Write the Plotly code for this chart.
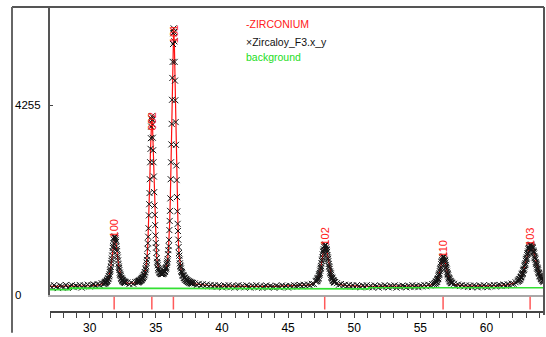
import numpy as np
import plotly.graph_objects as go

# ---------------- data (2-theta in degrees, intensity in counts) ----------------
STEP_BG = 0.15      # observed step between the peaks
STEP_OBS_PK = 0.025  # observed step across the peaks
STEP_CALC_PK = 0.05  # calculated-profile step across the peaks

# observed, background 27.00 - 31.05
obs_bg1 = [215, 170, 225, 185, 160, 220, 195, 175, 230, 165, 205, 225, 180, 210,
           190, 230, 170, 215, 200, 235, 195, 225, 240, 215, 250, 230, 270, 250]
# peak (100) 31.100 - 32.700
obs_pk100 = [255, 280, 265, 290, 275, 300, 305, 295, 320, 335, 330, 360, 375, 380,
             420, 430, 465, 520, 555, 585, 635, 715, 770, 820, 890, 985, 1060, 1100,
             1170, 1245, 1295, 1290, 1315, 1310, 1275, 1240, 1195, 1100, 1035, 990,
             895, 845, 780, 700, 640, 610, 565, 505, 470, 455, 430, 390, 370, 370,
             345, 325, 335, 305, 320, 295, 305, 285, 300, 275, 290]
calc_pk100 = [264, 273, 282, 295, 313, 336, 367, 411, 470, 547, 644, 763, 900, 1045,
              1180, 1282, 1321, 1283, 1183, 1048, 905, 769, 650, 555, 479, 421, 379,
              349, 327, 311, 299, 291, 283]
# background 32.85 - 33.45
obs_bg2 = [285, 250, 280, 255, 295]
# peaks (002)+(101) 33.600 - 37.800
obs_pk002_101 = [300, 290, 285, 310, 300, 320, 305, 325, 330, 320, 345, 335, 355, 350,
                 370, 380, 390, 385, 415, 410, 445, 450, 470, 510, 520, 575, 600, 650,
                 730, 790, 880, 1040, 1165, 1310, 1500, 1790, 2040, 2290, 2600, 2980,
                 3280, 3520, 3780, 3960, 4010, 3930, 3830, 3530, 3250, 2980, 2660, 2310,
                 2010, 1800, 1570, 1340, 1170, 1070, 950, 830, 750, 720, 670, 610,
                 580, 575, 555, 520, 505, 515, 505, 480, 475, 495, 490, 470, 475, 495,
                 500, 485, 495, 525, 535, 525, 540, 575, 600, 605, 630, 685, 725, 760,
                 810, 920, 1010, 1100, 1240, 1460, 1665, 1890, 2170, 2600, 2980, 3380,
                 3840, 4380, 4870, 5230, 5630, 5870, 5980, 5900, 5690, 5230, 4810, 4370,
                 3880, 3370, 2910, 2580, 2200, 1880, 1600, 1440, 1245, 1080, 945, 885,
                 800, 715, 660, 640, 600, 545, 520, 520, 495, 455, 440, 445, 430, 395,
                 385, 395, 380, 355, 350, 360, 350, 325, 320, 335, 325, 300, 300, 315,
                 305, 285, 285, 300, 290, 270, 270, 285, 280, 260, 260, 275, 270]
calc_pk002_101 = [292, 298, 305, 312, 323, 334, 348, 364, 384, 406,
                  437, 475, 529, 605, 719, 895, 1153, 1520, 2017, 2620,
                  3265, 3804, 4026, 3809, 3275, 2635, 2037, 1547, 1185, 934,
                  765, 658, 590, 545, 516, 496, 487, 483, 483, 490,
                  504, 523, 548, 587, 639, 713, 825, 993, 1255, 1643,
                  2199, 2951, 3866, 4844, 5660, 5993, 5657, 4835, 3854, 2936,
                  2179, 1619, 1226, 960, 786, 670, 589, 530, 484, 450,
                  420, 395, 374, 357, 342, 329, 318, 308, 300, 292,
                  285, 280, 273, 269, 264]
# background 37.95 - 47.10
obs_bg3 = [265, 230, 255, 220, 245, 205, 240, 200, 230, 195, 225, 185, 220, 200,
           175, 215, 190, 225, 180, 210, 170, 205, 225, 180, 210, 175, 220, 195,
           170, 210, 185, 225, 175, 205, 165, 195, 220, 180, 205, 185, 170, 215,
           195, 175, 220, 185, 205, 170, 210, 190, 225, 200, 215, 230, 200, 235,
           210, 240, 220, 255, 250, 305]
# peak (102) 47.150 - 48.550
obs_pk102 = [320, 315, 325, 350, 375, 375, 390, 430, 460, 470, 500, 550, 590, 615,
             650, 715, 770, 800, 845, 915, 970, 995, 1030, 1085, 1115, 1110, 1120,
             1135, 1120, 1070, 1030, 1010, 970, 900, 845, 815, 765, 700, 650, 630,
             590, 535, 500, 485, 455, 415, 390, 390, 370, 340, 325, 330, 320, 295,
             285, 295, 290]
calc_pk102 = [311, 333, 362, 400, 448, 508, 579, 663, 757, 857, 957, 1044, 1106, 1128,
              1106, 1044, 957, 857, 757, 663, 579, 508, 448, 400, 362, 333, 311, 293, 280]
# background 48.70 - 56.05
obs_bg4 = [270, 235, 250, 215, 235, 200, 230, 195, 220, 185, 225, 200, 175, 215,
           190, 225, 180, 210, 175, 220, 195, 170, 210, 185, 225, 195, 175, 210,
           185, 220, 170, 205, 185, 215, 195, 175, 210, 185, 225, 190, 210, 180,
           215, 195, 230, 200, 235, 215, 250, 245]
# peak (110) 56.100 - 57.400
obs_pk110 = [270, 265, 270, 295, 305, 300, 310, 340, 360, 365, 380, 420, 450, 465,
             490, 540, 580, 605, 635, 695, 740, 760, 790, 830, 860, 855, 860, 870,
             855, 815, 790, 770, 735, 680, 635, 610, 575, 525, 490, 470, 445, 405,
             380, 375, 355, 325, 310, 315, 300, 280, 270, 280, 270]
calc_pk110 = [264, 278, 295, 319, 349, 389, 439, 499, 569, 646, 726, 798, 849, 868,
              849, 798, 726, 646, 569, 499, 439, 389, 349, 319, 295, 278, 264]
# background 57.55 - 62.35
obs_bg5 = [255, 220, 240, 205, 225, 195, 220, 185, 215, 180, 220, 200, 175, 215,
           190, 225, 195, 180, 220, 200, 230, 195, 220, 230, 205, 240, 215, 245,
           225, 260, 255, 290, 300]
# peak (103) 62.400 - 64.350
obs_pk103 = [325, 320, 330, 350, 360, 355, 365, 395, 410, 405, 425, 460, 480, 480,
             500, 545, 565, 570, 595, 645, 675, 685, 715, 770, 805, 815, 845, 900,
             935, 945, 980, 1030, 1055, 1055, 1080, 1115, 1125, 1115, 1120, 1135,
             1125, 1095, 1080, 1075, 1055, 1005, 980, 965, 935, 880, 845, 830, 800,
             745, 715, 700, 670, 625, 600, 590, 560, 520, 500, 495, 475, 440, 425,
             425, 405, 380, 370, 370, 355, 335, 330, 335, 320, 305, 305]
calc_pk103 = [317, 333, 351, 374, 400, 431, 467, 508, 554, 606, 663, 724, 790, 857,
              924, 989, 1044, 1089, 1118, 1128, 1118, 1089, 1044, 989, 924, 857, 790,
              724, 663, 606, 554, 508, 467, 431, 400, 374, 351, 333, 317, 304]

# calculated profile between the peaks (knots)
calc_bg_x = [27.0, 28.0, 29.0, 30.0, 30.6, 30.9, 31.05,
             32.85, 33.0, 33.15, 33.3, 33.45,
             37.95, 38.25, 38.55, 39.0, 39.6, 40.5, 42.0, 44.0, 45.0, 45.6, 46.2,
             46.5, 46.8, 46.95, 47.1,
             48.7, 49.0, 49.45, 49.9, 50.5, 51.5, 53.0, 54.5, 55.0, 55.45, 55.75,
             55.9, 56.05,
             57.55, 57.85, 58.15, 58.6, 59.5, 60.5, 61.0, 61.6, 61.9, 62.2, 62.35]
calc_bg_y = [198, 200, 204, 212, 228, 245, 258,
             272, 267, 266, 270, 278,
             253, 239, 229, 218, 209, 203, 199, 199, 204, 208, 217,
             226, 244, 261, 293,
             255, 231, 217, 209, 205, 201, 199, 201, 205, 212, 225,
             236, 252,
             242, 224, 213, 206, 204, 211, 217, 233, 247, 275, 304]

# refined background
bg_x = [27.0, 28.5, 28.5, 42.2, 42.2, 51.1, 51.1, 64.35]
bg_y = [125, 125, 158, 158, 142, 142, 168, 168]

# reflections
hkl_pos = [31.85, 34.70, 36.33, 47.77, 56.72, 63.30]
hkl_labels = ["100", "002", "101", "102", "110", "103"]

x_range = [27.0, 64.35]
y_range = [0, 6460]
y_tick_vals = [0, 4255]
x_tick_label_step = 5

# ---------------- assemble ----------------
obs_segments = [(27.00, STEP_BG, obs_bg1), (31.10, STEP_OBS_PK, obs_pk100),
                (32.85, STEP_BG, obs_bg2), (33.60, STEP_OBS_PK, obs_pk002_101),
                (37.95, STEP_BG, obs_bg3), (47.15, STEP_OBS_PK, obs_pk102),
                (48.70, STEP_BG, obs_bg4), (56.10, STEP_OBS_PK, obs_pk110),
                (57.55, STEP_BG, obs_bg5), (62.40, STEP_OBS_PK, obs_pk103)]
calc_segments = [(31.10, STEP_CALC_PK, calc_pk100), (33.60, STEP_CALC_PK, calc_pk002_101),
                 (47.15, STEP_CALC_PK, calc_pk102), (56.10, STEP_CALC_PK, calc_pk110),
                 (62.40, STEP_CALC_PK, calc_pk103)]

obs_x, obs_y = [], []
for start, step, vals in obs_segments:
    obs_x += list(np.round(start + step * np.arange(len(vals)), 4))
    obs_y += list(vals)

cx, cy = list(calc_bg_x), list(calc_bg_y)
for start, step, vals in calc_segments:
    cx += list(np.round(start + step * np.arange(len(vals)), 4))
    cy += list(vals)
order = np.argsort(cx, kind="stable")
calc_x = np.array(cx)[order]
calc_y = np.array(cy)[order]

fig = go.Figure()
fig.add_trace(go.Scatter(x=calc_x, y=calc_y, mode="lines",
                         line=dict(color="#ff1010", width=1.2),
                         xaxis="x", yaxis="y", showlegend=False, hoverinfo="skip"))
fig.add_trace(go.Scatter(x=obs_x, y=obs_y, mode="markers",
                         marker=dict(symbol="x-thin", size=6,
                                     line=dict(width=1, color="#141414")),
                         xaxis="x", yaxis="y", showlegend=False, hoverinfo="skip"))
fig.add_trace(go.Scatter(x=bg_x, y=bg_y, mode="lines",
                         line=dict(color="#33e033", width=1.6),
                         xaxis="x", yaxis="y", showlegend=False, hoverinfo="skip"))
fig.add_trace(go.Scatter(x=hkl_pos, y=[0.5] * len(hkl_pos), mode="markers",
                         marker=dict(symbol="line-ns", size=9,
                                     line=dict(width=1.5, color="#ff5a5a")),
                         xaxis="x2", yaxis="y2", showlegend=False, hoverinfo="skip"))

strip = 16 / 308.0
tick_vals = list(range(27, 65))
tick_text = [str(v) if v % x_tick_label_step == 0 else "" for v in tick_vals]

fig.update_layout(
    width=546, height=337,
    margin=dict(l=50, r=2, t=7, b=22),
    paper_bgcolor="white", plot_bgcolor="white",
    font=dict(family="Arial, Liberation Sans", color="black"),
    xaxis=dict(domain=[0, 1], range=x_range, anchor="y", showticklabels=False,
               ticks="", showgrid=False, zeroline=False, showline=True,
               linecolor="#a8a8a8", linewidth=1.5),
    xaxis2=dict(domain=[0, 1], range=x_range, anchor="y2", matches="x",
                tickmode="array", tickvals=tick_vals, ticktext=tick_text,
                ticks="outside", ticklen=5, tickwidth=1, tickcolor="#444",
                tickfont=dict(size=12, color="black"),
                showgrid=False, zeroline=False, showline=True,
                linecolor="#444", linewidth=1.5),
    yaxis=dict(domain=[strip, 1], range=y_range, anchor="x",
               tickmode="array", tickvals=y_tick_vals, ticks="inside", ticklen=3,
               tickcolor="#444", showticklabels=False, showgrid=False,
               zeroline=False, showline=True, linecolor="#555", linewidth=2),
    yaxis2=dict(domain=[0, strip], range=[0, 1], anchor="x2", showticklabels=False,
                ticks="", showgrid=False, zeroline=False, showline=False),
)

# frame lines
xl = (12 - 50) / 494.0
fig.add_shape(type="line", xref="paper", yref="paper", x0=xl, x1=1, y0=1, y1=1,
              line=dict(color="#555", width=2))
fig.add_shape(type="line", xref="paper", yref="paper", x0=xl, x1=xl, y0=1,
              y1=-22 / 308.0, line=dict(color="#666", width=2))
fig.add_shape(type="line", xref="paper", yref="paper", x0=1, x1=1, y0=1,
              y1=-4 / 308.0, line=dict(color="#555", width=2))

# y tick labels (left aligned, as in the original)
for v in y_tick_vals:
    fig.add_annotation(x=(13 - 50) / 494.0, xref="paper", y=v, yref="y",
                       text=str(v), showarrow=False, xanchor="left",
                       yanchor="middle", font=dict(size=11.5, color="black"))

# legend as coloured text
legend_items = [("-ZIRCONIUM", "#ff2020"), ("\u00d7Zircaloy_F3.x_y", "#111111"),
                ("background", "#22dd22")]
legend_px = [24, 42, 58]
for (txt, col), py in zip(legend_items, legend_px):
    fig.add_annotation(x=(244 - 50) / 494.0, xref="paper", y=(315 - py) / 308.0,
                       yref="paper", text=txt, showarrow=False, xanchor="left",
                       yanchor="middle", font=dict(size=10.5, color=col))

# hkl labels above the reflections
for pos, lab in zip(hkl_pos, hkl_labels):
    sel = np.abs(calc_x - pos) <= 0.3
    top = float(calc_y[sel].max())
    big = top > 3000
    fig.add_annotation(x=pos, xref="x", y=top, yref="y", text=lab,
                       textangle=-90, showarrow=False, xanchor="center",
                       yanchor="top" if big else "bottom",
                       yshift=5 if big else -3,
                       font=dict(size=11, color="#ff2020"))

# the page body has a default 8px margin; remove it so the figure fills the window
fig.write_html("out.html", config={"displayModeBar": False},
               post_script="document.body.style.margin='0px';")
